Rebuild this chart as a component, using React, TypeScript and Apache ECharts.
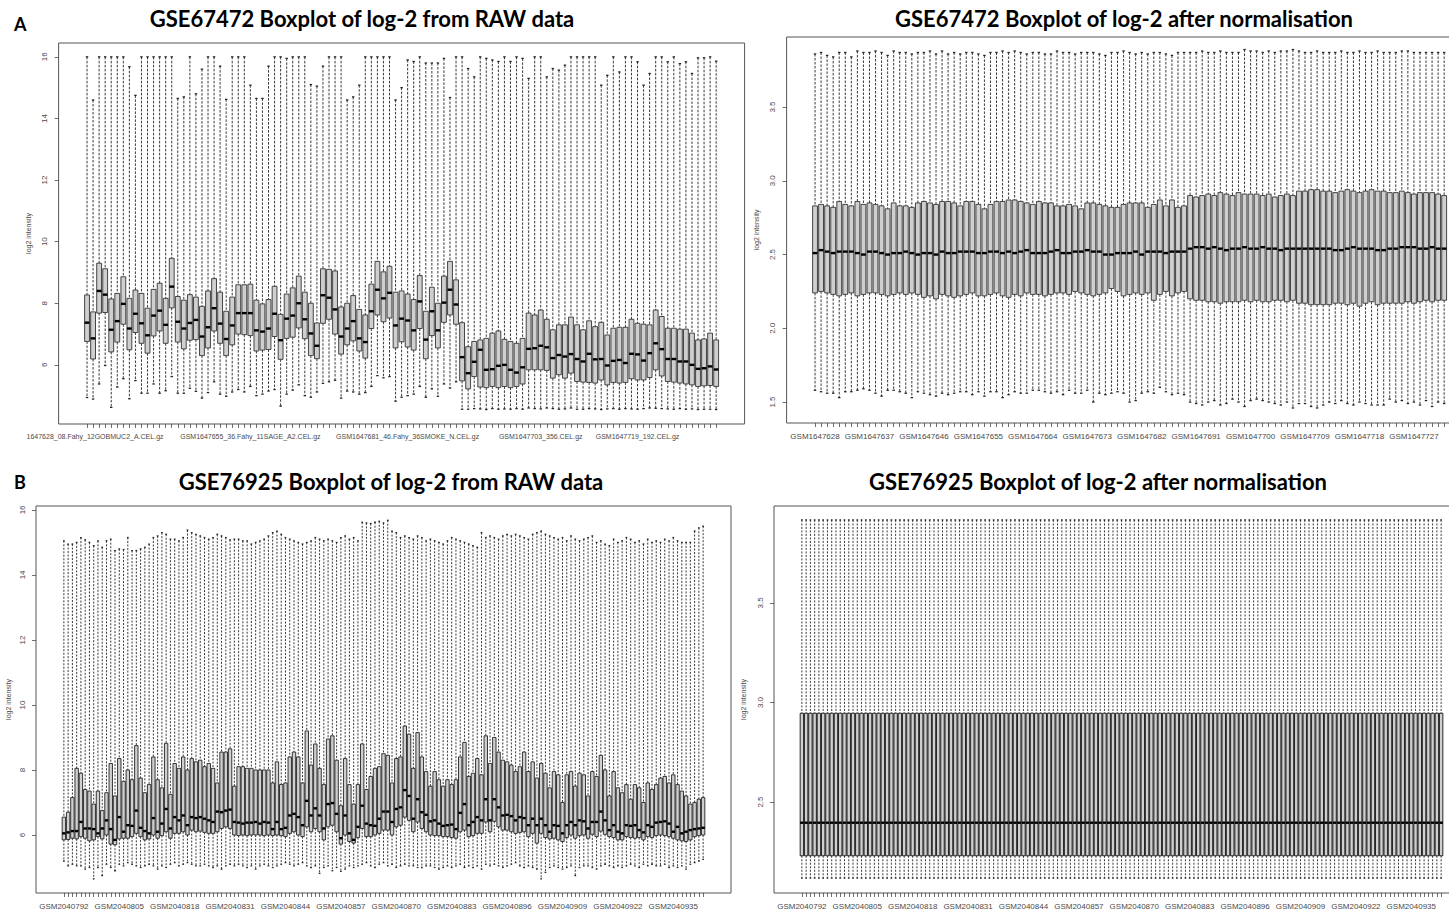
import React, { useEffect, useRef } from 'react';
import * as echarts from 'echarts';

// ---------- Sample identifiers (consecutive GEO accessions) ----------
const aFirstId = 1647628; // GSE67472, 105 arrays
const aCount = 105;
const bFirstId = 2040792; // GSE76925, 151 arrays
const bCount = 151;

// ---------- Panel A, raw data (log2) ----------
const aRawMin = [4.94,4.89,5.38,5.98,4.62,5.28,5.55,4.90,5.49,5.08, 5.08,5.38,5.08,5.16,5.62,5.08,5.08,5.24,5.14,4.92, 5.10,5.45,5.05,4.98,5.12,5.20,5.12,5.30,5.00,5.05, 5.15,5.20,4.66,5.05,5.18,5.35,5.00,4.95,5.12,5.40, 5.45,5.50,4.92,5.15,5.12,5.05,5.10,5.30,5.65,5.58, 5.62,4.82,4.95,5.00,5.05,5.30,4.95,5.22,4.98,5.38, 5.25,5.45,
  4.56,4.56,4.58,4.57,4.55,4.58,4.56,4.57,4.56,4.58, 4.56,4.60,4.58,4.57,4.60,4.58,4.56,4.57,4.60,4.56, 4.56,4.58,4.57,4.55,4.57,4.58,4.56,4.58,4.57,4.56, 4.58,4.60,4.59,4.58,4.57,4.56,4.58,4.56,4.57,4.55, 4.56,4.56,4.55];
const aRawQ1 = [6.76,6.19,7.68,7.70,6.42,6.74,7.32,6.49,7.05,6.70, 6.38,6.94,7.10,6.70,7.85,6.74,6.52,6.80,6.82,6.30, 6.55,7.10,6.70,6.30,6.65,7.00,6.98,6.95,6.45,6.48, 6.50,6.92,6.18,6.86,6.90,7.20,6.85,6.30,6.20,7.35, 7.48,7.00,6.35,6.65,6.78,6.45,6.22,7.18,7.62,7.40, 7.52,6.55,6.75,6.58,6.48,7.18,6.20,6.95,6.55,7.38, 7.62,7.32,
  5.48,5.22,5.62,5.28,5.26,5.30,5.26,5.30,5.26,5.30, 5.38,5.84,5.84,5.84,5.82,5.57,5.68,5.57,5.73,5.46, 5.44,5.43,5.41,5.51,5.35,5.43,5.41,5.43,5.55,5.51, 5.51,5.59,5.84,5.64,5.46,5.44,5.41,5.38,5.35,5.30, 5.32,5.33,5.30];
const aRawMed = [7.37,6.86,8.40,8.28,7.14,7.42,7.98,7.18,7.66,7.35, 6.96,7.60,7.76,7.30,8.54,7.40,7.18,7.36,7.46,6.92, 7.22,7.84,7.34,6.84,7.28,7.68,7.68,7.68,7.12,7.08, 7.18,7.66,6.80,7.50,7.60,8.00,7.48,7.02,6.62,8.26, 8.18,7.80,6.92,7.18,7.42,6.86,6.74,7.74,8.44,8.16, 8.34,7.28,7.50,7.44,7.12,8.06,6.82,7.74,7.12,8.02, 8.44,7.96,
  6.25,5.73,6.10,6.49,5.84,5.86,5.97,6.00,5.84,5.75, 5.92,6.52,6.54,6.62,6.57,6.22,6.32,6.27,6.35,6.19, 6.11,6.36,6.18,6.19,5.98,6.13,6.16,6.06,6.36,6.34, 6.14,6.38,6.70,6.51,6.19,6.19,6.11,6.11,6.00,5.87, 5.89,5.95,5.85];
const aRawQ3 = [8.27,7.72,9.30,9.12,8.14,8.32,8.86,8.16,8.43,8.32, 7.84,8.45,8.65,8.16,9.46,8.22,8.10,8.28,8.20,7.90, 8.40,8.80,8.36,7.74,8.20,8.60,8.60,8.62,8.10,7.98, 8.12,8.55,7.64,8.30,8.50,8.88,8.36,8.00,7.36,9.12, 9.10,9.05,7.88,8.00,8.25,7.80,7.62,8.62,9.36,9.02, 9.20,8.36,8.40,8.30,8.12,8.90,7.74,8.52,8.00,8.88, 9.36,8.76,
  7.37,6.59,6.76,6.81,6.86,7.03,7.10,6.83,6.76,6.70, 6.86,7.68,7.62,7.78,7.48,7.14,7.30,7.30,7.55,7.30, 7.14,7.43,7.24,7.38,6.97,7.19,7.22,7.22,7.48,7.35, 7.32,7.30,7.78,7.57,7.19,7.19,7.16,7.16,7.03,6.81, 6.84,7.03,6.81];
const aRawMax = [16,14.6,16,16,16,16,16,15.68,14.75,16, 16,16,16,16,16,14.65,14.7,16,14.8,15.6, 16,16,15.7,14.62,16,16,16,15.08,14.65,14.65, 15.7,16,16,15.95,16,16,16,15.1,15.05,15.7, 16,16,16,14.6,14.7,15.08,16,16,16,16, 16,14.6,15.0,15.9,15.85,16,15.8,15.8,15.8,15.95, 14.68,16,
  16,15.62,15.35,16,15.95,15.9,15.85,16,15.85,16, 15.95,15.3,16,16,15.35,15.62,15.57,15.73,16,16, 16,16,16,15.08,15.4,16,15.51,16,16,15.84, 15.08,15.46,16,16,15.84,16,15.78,15.84,15.46,15.97, 15.97,16,15.86];

// ---------- Panel A, after normalisation ----------
const aNormMin = [1.58,1.57,1.56,1.56,1.53,1.57,1.57,1.58,1.59,1.58, 1.56,1.54,1.58,1.58,1.57,1.56,1.53,1.57,1.56,1.55, 1.54,1.56,1.55,1.56,1.57,1.57,1.55,1.57,1.54,1.57, 1.57,1.53,1.55,1.57,1.56,1.56,1.58,1.58,1.57,1.56, 1.57,1.55,1.58,1.56,1.56,1.58,1.50,1.56,1.55,1.56, 1.57,1.56,1.50,1.51,1.56,1.57,1.56,1.60,1.57,1.55, 1.56,1.55,
  1.50,1.49,1.48,1.50,1.51,1.48,1.49,1.52,1.50,1.47, 1.51,1.52,1.51,1.50,1.49,1.48,1.50,1.46,1.49,1.49, 1.47,1.46,1.48,1.50,1.49,1.51,1.49,1.48,1.50,1.49, 1.48,1.48,1.48,1.52,1.50,1.51,1.49,1.50,1.48,1.51, 1.47,1.50,1.49];
const aNormQ1 = [2.24,2.25,2.24,2.23,2.22,2.23,2.24,2.22,2.23,2.24, 2.24,2.23,2.22,2.23,2.24,2.23,2.24,2.23,2.21,2.22, 2.20,2.23,2.22,2.21,2.22,2.23,2.24,2.22,2.22,2.23, 2.24,2.22,2.21,2.23,2.22,2.24,2.23,2.23,2.22,2.23, 2.24,2.24,2.23,2.25,2.24,2.23,2.22,2.23,2.24,2.27, 2.25,2.22,2.23,2.24,2.23,2.24,2.19,2.23,2.25,2.22, 2.24,2.25,
  2.20,2.19,2.19,2.18,2.18,2.17,2.18,2.18,2.18,2.19, 2.18,2.19,2.18,2.18,2.19,2.19,2.18,2.19,2.17,2.17, 2.16,2.16,2.16,2.16,2.17,2.17,2.16,2.17,2.15,2.17, 2.18,2.16,2.17,2.17,2.17,2.17,2.18,2.17,2.18,2.19, 2.18,2.19,2.19];
const aNormMed = [2.51,2.53,2.52,2.51,2.52,2.52,2.52,2.51,2.50,2.52, 2.52,2.51,2.50,2.51,2.51,2.52,2.51,2.50,2.51,2.51, 2.50,2.52,2.51,2.51,2.52,2.52,2.52,2.51,2.51,2.52, 2.52,2.51,2.52,2.51,2.52,2.53,2.51,2.51,2.51,2.52, 2.53,2.51,2.51,2.52,2.52,2.53,2.52,2.52,2.50,2.50, 2.51,2.51,2.51,2.52,2.50,2.52,2.52,2.52,2.51,2.52, 2.52,2.52,
  2.54,2.55,2.55,2.54,2.55,2.54,2.53,2.54,2.54,2.55, 2.54,2.54,2.55,2.54,2.54,2.53,2.54,2.54,2.54,2.54, 2.54,2.54,2.54,2.54,2.53,2.53,2.54,2.55,2.54,2.54, 2.54,2.53,2.53,2.54,2.54,2.55,2.55,2.55,2.54,2.54, 2.55,2.54,2.54];
const aNormQ3 = [2.83,2.84,2.83,2.82,2.86,2.84,2.83,2.86,2.84,2.85, 2.84,2.83,2.81,2.85,2.83,2.83,2.82,2.85,2.86,2.85, 2.84,2.86,2.86,2.85,2.83,2.86,2.86,2.84,2.81,2.84, 2.86,2.86,2.87,2.87,2.86,2.85,2.84,2.86,2.85,2.85, 2.83,2.83,2.84,2.83,2.81,2.85,2.85,2.84,2.83,2.82, 2.82,2.84,2.85,2.85,2.85,2.82,2.84,2.87,2.83,2.87, 2.82,2.83,
  2.90,2.89,2.90,2.91,2.90,2.92,2.91,2.90,2.92,2.91, 2.91,2.91,2.90,2.91,2.89,2.90,2.91,2.90,2.93,2.93, 2.94,2.94,2.93,2.93,2.92,2.93,2.94,2.93,2.92,2.93, 2.94,2.93,2.93,2.92,2.92,2.93,2.92,2.91,2.92,2.92, 2.92,2.91,2.90];
const aNormMax = [3.86,3.87,3.85,3.84,3.87,3.87,3.84,3.88,3.87,3.87, 3.88,3.87,3.85,3.88,3.87,3.87,3.86,3.87,3.87,3.88, 3.86,3.88,3.86,3.87,3.86,3.87,3.87,3.86,3.85,3.87, 3.87,3.88,3.87,3.88,3.87,3.86,3.87,3.87,3.86,3.86, 3.88,3.87,3.87,3.86,3.87,3.87,3.87,3.86,3.85,3.87, 3.87,3.88,3.87,3.86,3.87,3.86,3.87,3.87,3.86,3.85, 3.87,3.87,
  3.87,3.87,3.88,3.87,3.87,3.88,3.87,3.87,3.87,3.89, 3.88,3.88,3.87,3.88,3.87,3.88,3.88,3.89,3.88,3.87, 3.87,3.88,3.87,3.87,3.87,3.88,3.87,3.87,3.88,3.87, 3.87,3.88,3.87,3.87,3.87,3.88,3.88,3.87,3.87,3.87, 3.87,3.87,3.87];

// ---------- Panel B, raw data (log2) ----------
const bRawMin = [5.2,5.05,5.1,5.05,5.05,4.95,5.0,4.65,5.0,4.75, 5.1,5.0,4.9,5.1,5.05,5.15,5.1,5.05,5.0,5.05, 5.1,5.05,4.95,5.05,5.0,5.1,5.15,5.05,5.1,5.15, 5.1,5.05,5.05,5.1,5.05,5.0,5.05,4.95,5.05,5.1, 5.05,5.1,5.05,5.0,5.05,4.95,5.05,5.1,5.05,5.0, 5.05,5.1,5.15,5.1,5.05,5.1,5.15,5.05,5.0,5.05, 4.82,5.0,5.05,4.9,5.0,4.88,4.95,5.05,5.0,5.05, 5.1,5.15,5.05,5.0,5.1,5.15,5.05,5.1,5.0,5.05, 5.1,5.05,5.05,5.0,5.0,5.05,5.05,5.0,4.95,5.0, 5.05,5.0,5.05,5.1,5.0,5.05,5.0,5.05,4.95,5.1, 5.05,5.1,5.05,5.0,5.05,5.1,5.15,5.05,5.0,5.05, 5.0,4.95,4.65,4.85,5.0,5.05,5.0,4.95,5.0,5.05, 4.75,5.0,5.05,5.05,5.0,4.95,5.05,5.1,5.05,5.0, 5.05,5.0,5.05,5.1,5.05,5.0,5.1,5.05,5.1,5.05, 5.05,5.1,5.0,5.05,5.0,5.05,4.95,5.1,5.15,5.2,5.25];
const bRawQ1 = [5.85,5.86,5.90,5.88,5.95,5.90,5.82,5.85,5.95,5.88, 6.00,5.72,5.70,5.88,5.90,5.90,5.95,6.05,5.95,5.85, 5.88,6.00,5.90,5.98,6.10,5.90,6.05,6.05,6.10,6.00, 6.15,6.10,6.12,6.08,6.05,6.05,6.10,6.20,6.25,6.20, 6.00,5.98,6.00,5.98,6.00,6.00,6.00,5.98,6.00,5.98, 6.00,5.98,5.95,6.05,6.10,6.00,5.95,6.25,6.10,6.20, 6.10,5.85,6.25,6.30,6.10,5.72,6.00,5.80,5.75,5.92, 6.20,5.95,5.95,6.00,6.05,6.15,6.15,6.00,6.25,6.30, 6.55,6.45,6.10,6.40,6.20,6.10,6.00,5.98,5.98,5.95, 5.95,5.92,5.90,6.10,6.15,5.95,5.98,6.05,6.05,6.40, 6.10,6.42,6.25,6.15,6.15,6.10,6.05,6.08,6.10,5.95, 6.05,5.75,6.05,5.92,5.88,5.90,5.85,5.80,5.92,6.00, 5.90,5.98,6.00,5.90,6.02,5.95,6.12,6.02,5.95,5.92, 5.85,5.85,5.95,5.92,5.90,5.92,5.85,5.95,5.92,5.98, 6.00,5.98,5.95,5.90,5.85,5.82,5.80,5.85,5.95,5.98,6.00];
const bRawMed = [6.05,6.08,6.12,6.12,6.40,6.20,6.20,6.18,6.05,6.20, 6.45,6.18,5.85,6.55,6.10,6.30,6.28,6.75,6.22,6.12, 6.05,6.52,6.10,6.35,6.80,6.20,6.55,6.45,6.60,6.30, 6.55,6.52,6.55,6.50,6.45,6.40,6.72,6.70,6.75,6.78, 6.40,6.38,6.35,6.38,6.38,6.40,6.35,6.40,6.38,6.18, 6.40,6.18,6.22,6.60,6.65,6.55,6.30,7.05,6.60,6.82, 6.60,6.20,6.95,6.98,6.65,5.90,6.60,6.05,5.85,6.25, 6.90,6.35,6.30,6.28,6.50,6.72,6.72,6.40,6.80,6.85, 7.38,7.20,6.50,7.10,6.70,6.62,6.42,6.45,6.35,6.28, 6.30,6.32,6.18,6.68,6.95,6.30,6.40,6.55,6.45,7.10, 6.45,7.10,6.85,6.60,6.62,6.58,6.45,6.55,6.52,6.30, 6.50,6.30,6.50,6.30,6.10,6.30,6.28,6.05,6.30,6.40, 6.30,6.45,6.42,6.20,6.40,6.40,6.72,6.45,6.15,6.30, 6.10,6.05,6.30,6.28,6.30,6.15,6.08,6.30,6.25,6.38, 6.40,6.42,6.35,6.10,6.25,6.05,6.10,6.15,6.18,6.20,6.22];
const bRawQ3 = [6.55,6.70,7.15,8.05,7.90,7.40,7.35,6.95,7.35,6.75, 7.30,8.20,7.20,8.35,7.65,8.00,7.70,8.75,7.75,7.30, 7.55,8.40,7.70,7.45,8.82,7.25,8.20,8.05,8.40,8.00, 8.35,8.25,8.30,8.10,8.20,8.05,7.60,8.55,8.55,8.65, 7.50,8.10,8.10,8.05,8.05,8.00,8.00,8.00,8.00,7.60, 8.25,7.55,7.60,8.40,8.55,8.40,7.60,9.20,8.15,8.80, 8.05,7.55,8.95,9.05,8.30,6.90,8.35,7.55,6.95,7.55, 8.80,7.40,7.80,8.05,8.10,8.50,8.45,7.60,8.35,8.40, 9.35,9.10,8.05,9.15,8.40,7.95,7.50,7.95,7.70,7.50, 7.70,7.55,7.70,8.40,8.85,7.80,7.90,8.35,7.85,9.05, 8.20,9.00,8.55,8.30,8.25,8.15,7.95,8.10,8.55,7.95, 8.25,7.75,8.20,7.90,7.45,7.95,7.85,7.00,7.85,7.95, 7.50,7.90,7.85,7.20,7.95,7.80,8.45,8.00,7.20,7.95, 7.45,7.30,7.55,7.10,7.55,7.45,7.00,7.60,7.40,7.55, 7.75,7.80,7.60,7.85,7.55,7.35,7.20,6.95,7.00,7.10,7.15];
const bRawMax = [15.05,14.95,14.95,15.0,15.15,15.08,15.0,14.9,15.05,14.85, 15.05,15.1,14.75,14.8,14.78,15.15,14.75,14.75,14.8,14.85, 14.95,15.15,15.2,15.3,15.25,15.1,15.1,15.05,15.15,15.38, 15.3,15.25,15.2,15.15,15.1,15.15,15.25,15.2,15.15,15.08, 15.1,15.1,15.05,15.05,14.95,15.0,15.05,15.1,15.2,15.3, 15.35,15.25,15.15,15.1,15.05,15.0,14.95,15.0,15.05,15.15, 15.1,15.05,15.1,15.05,15.0,15.15,15.2,15.1,15.15,15.05, 15.62,15.6,15.58,15.62,15.65,15.6,15.68,15.35,15.3,15.15, 15.2,15.15,15.1,15.2,15.15,15.05,15.1,15.05,15.0,14.95, 15.05,15.15,15.1,15.05,15.0,14.95,14.9,14.85,15.3,15.15, 15.2,15.15,15.1,15.2,15.25,15.2,15.25,15.2,15.15,15.1, 15.25,15.3,15.35,15.25,15.2,15.15,15.1,15.15,15.05,15.2, 15.1,15.05,15.1,15.15,15.2,15.0,15.05,14.95,14.9,15.1, 15.0,15.05,15.15,15.1,15.0,15.05,14.95,15.1,15.0,15.05, 15.0,15.1,15.05,15.15,15.05,15.0,15.0,15.0,15.35,15.45,15.5];

// ---------- Panel B, after normalisation (quantile-normalised: identical boxes) ----------
const bNormBox = [2.118, 2.23, 2.396, 2.946, 3.917]; // min, Q1, median, Q3, max

// ---------- Tick values ----------
const rawTicks = [6, 8, 10, 12, 14, 16];
const aNormTicks = [1.5, 2.0, 2.5, 3.0, 3.5];
const bNormTicks = [2.5, 3.0, 3.5];

// ---------- Labelled samples ----------
const aRawLabels: Record<number, string> = {
  1: '1647628_08.Fahy_12GOBMUC2_A.CEL.gz',
  28: 'GSM1647655_36.Fahy_11SAGE_A2.CEL.gz',
  54: 'GSM1647681_46.Fahy_36SMOKE_N.CEL.gz',
  76: 'GSM1647703_356.CEL.gz',
  92: 'GSM1647719_192.CEL.gz',
};

const titles = [
  'GSE67472 Boxplot of log-2 from RAW data',
  'GSE67472 Boxplot of log-2 after normalisation',
  'GSE76925 Boxplot of log-2 from RAW data',
  'GSE76925 Boxplot of log-2 after normalisation',
];

const seq = (n: number, step = 1) => {
  const r: number[] = [];
  for (let i = 1; i <= n; i += step) r.push(i);
  return r;
};
const aIds = seq(aCount).map((i) => 'GSM' + (aFirstId + i - 1));
const bIds = seq(bCount).map((i) => 'GSM' + (bFirstId + i - 1));

const rows = (mn: number[], q1: number[], md: number[], q3: number[], mx: number[]) =>
  mn.map((v, i) => [i + 1, v, q1[i], md[i], q3[i], mx[i]]);

const LABEL_FONT = '"Liberation Sans", Arial, Helvetica, sans-serif';
const AXIS_COLOR = '#4a4a4a';

function makeRender(dash: number[], boxStroke: string) {
  return (params: any, api: any) => {
    const x = api.value(0);
    const lo = api.coord([x, api.value(1)]);
    const q1 = api.coord([x, api.value(2)]);
    const md = api.coord([x, api.value(3)]);
    const q3 = api.coord([x, api.value(4)]);
    const hi = api.coord([x, api.value(5)]);
    const w = api.size([0.8, 0])[0];
    const cx = lo[0];
    const sw = w / 4;
    const wStyle = { stroke: '#222', lineWidth: 0.9, lineDash: dash };
    const sStyle = { stroke: '#222', lineWidth: 1.3 };
    return {
      type: 'group',
      children: [
        { type: 'line', shape: { x1: cx, y1: hi[1], x2: cx, y2: q3[1] }, style: wStyle },
        { type: 'line', shape: { x1: cx, y1: q1[1], x2: cx, y2: lo[1] }, style: wStyle },
        { type: 'line', shape: { x1: cx - sw, y1: hi[1], x2: cx + sw, y2: hi[1] }, style: sStyle },
        { type: 'line', shape: { x1: cx - sw, y1: lo[1], x2: cx + sw, y2: lo[1] }, style: sStyle },
        {
          type: 'rect',
          shape: { x: cx - w / 2, y: q3[1], width: w, height: q1[1] - q3[1] },
          style: { fill: '#cfcfcf', stroke: boxStroke, lineWidth: 0.9 },
        },
        { type: 'line', shape: { x1: cx - w / 2, y1: md[1], x2: cx + w / 2, y2: md[1] }, style: { stroke: '#000', lineWidth: 2.4 } },
      ],
    };
  };
}

function makeX(gridIndex: number, n: number, labelPos: number[], fmt: (v: number) => string, fontSize: number) {
  const pad = 0.5 + 0.04 * n;
  return {
    type: 'value',
    gridIndex,
    min: 1 - pad,
    max: n + pad,
    axisLine: { show: false, onZero: false },
    splitLine: { show: false },
    axisTick: { show: true, length: 4, customValues: seq(n), lineStyle: { color: AXIS_COLOR, width: 0.8 } },
    axisLabel: {
      customValues: labelPos,
      formatter: fmt,
      showMinLabel: true,
      showMaxLabel: true,
      hideOverlap: false,
      fontSize,
      color: AXIS_COLOR,
      fontFamily: LABEL_FONT,
      margin: 9,
      rich: { p: { padding: [0, 0, 0, 16], fontSize, color: AXIS_COLOR, fontFamily: LABEL_FONT } },
    },
  };
}

function makeY(gridIndex: number, min: number, max: number, ticks: number[], digits: number, nameGap: number) {
  return {
    type: 'value',
    gridIndex,
    min,
    max,
    name: 'log2 intensity',
    nameLocation: 'middle',
    nameGap,
    nameTextStyle: { fontSize: 7, color: AXIS_COLOR, fontFamily: LABEL_FONT },
    axisLine: { show: false, onZero: false },
    splitLine: { show: false },
    axisTick: { show: true, length: 4, customValues: ticks, lineStyle: { color: AXIS_COLOR, width: 0.8 } },
    axisLabel: {
      customValues: ticks,
      showMinLabel: true,
      showMaxLabel: true,
      rotate: 90,
      fontSize: 8,
      color: AXIS_COLOR,
      fontFamily: LABEL_FONT,
      margin: 10,
      formatter: (v: number) => v.toFixed(digits),
    },
  };
}

export default function App() {
  const ref = useRef<HTMLDivElement>(null);
  useEffect(() => {
    if (!ref.current) return;
    const chart = echarts.init(ref.current, undefined, { renderer: 'svg' });
    const gridBase = { show: true, borderColor: '#555', borderWidth: 1, backgroundColor: 'transparent' };
    const aLabelPosNorm = seq(aCount, 9);
    const bLabelPos = seq(bCount, 13);
    const bNormRows = bIds.map((_, i) => [i + 1, ...bNormBox]);
    const titleFont = 'bold 22px Lato, "Open Sans", sans-serif';
    chart.setOption({
      animation: false,
      backgroundColor: '#fff',
      grid: [
        { ...gridBase, left: 58.6, top: 43, width: 686, height: 381 },
        { ...gridBase, left: 786.6, top: 37, width: 686, height: 386 },
        { ...gridBase, left: 36, top: 506, width: 695, height: 387 },
        { ...gridBase, left: 774, top: 506, width: 695, height: 387 },
      ],
      xAxis: [
        makeX(0, aCount, Object.keys(aRawLabels).map(Number), (v: number) =>
          v === 1 ? '{p|' + aRawLabels[1] + '}' : aRawLabels[v] || '', 7),
        makeX(1, aCount, aLabelPosNorm, (v: number) => aIds[v - 1] || '', 8),
        makeX(2, bCount, bLabelPos, (v: number) => bIds[v - 1] || '', 8),
        makeX(3, bCount, bLabelPos, (v: number) => bIds[v - 1] || '', 8),
      ],
      yAxis: [
        makeY(0, 4.08, 16.45, rawTicks, 0, 27),
        makeY(1, 1.358, 3.975, aNormTicks, 1, 27),
        makeY(2, 4.215, 16.12, rawTicks, 0, 24),
        makeY(3, 2.043, 3.987, bNormTicks, 1, 27),
      ],
      series: [
        { type: 'custom', xAxisIndex: 0, yAxisIndex: 0, silent: true, renderItem: makeRender([2.5, 1.5], '#333'),
          encode: { x: 0, y: [1, 2, 3, 4, 5] }, data: rows(aRawMin, aRawQ1, aRawMed, aRawQ3, aRawMax) },
        { type: 'custom', xAxisIndex: 1, yAxisIndex: 1, silent: true, renderItem: makeRender([2.5, 1.5], '#333'),
          encode: { x: 0, y: [1, 2, 3, 4, 5] }, data: rows(aNormMin, aNormQ1, aNormMed, aNormQ3, aNormMax) },
        { type: 'custom', xAxisIndex: 2, yAxisIndex: 2, silent: true, renderItem: makeRender([2, 1.5], '#222'),
          encode: { x: 0, y: [1, 2, 3, 4, 5] }, data: rows(bRawMin, bRawQ1, bRawMed, bRawQ3, bRawMax) },
        { type: 'custom', xAxisIndex: 3, yAxisIndex: 3, silent: true, renderItem: makeRender([2, 1.5], '#111'),
          encode: { x: 0, y: [1, 2, 3, 4, 5] }, data: bNormRows },
      ],
      graphic: [
        { type: 'text', x: 14, y: 24, style: { text: 'A', font: 'bold 18px Lato, sans-serif', fill: '#000', align: 'left', verticalAlign: 'middle' } },
        { type: 'text', x: 14, y: 482, style: { text: 'B', font: 'bold 18px Lato, sans-serif', fill: '#000', align: 'left', verticalAlign: 'middle' } },
        { type: 'text', x: 362, y: 18, style: { text: titles[0], font: titleFont, fill: '#000', align: 'center', verticalAlign: 'middle' } },
        { type: 'text', x: 1124, y: 18, style: { text: titles[1], font: titleFont, fill: '#000', align: 'center', verticalAlign: 'middle' } },
        { type: 'text', x: 391, y: 481, style: { text: titles[2], font: titleFont, fill: '#000', align: 'center', verticalAlign: 'middle' } },
        { type: 'text', x: 1098, y: 481, style: { text: titles[3], font: titleFont, fill: '#000', align: 'center', verticalAlign: 'middle' } },
      ],
    });
    return () => chart.dispose();
  }, []);
  return (
    <div style={{ position: 'fixed', left: 0, top: 0, width: 1449, height: 914, overflow: 'hidden', background: '#fff' }}>
      <div ref={ref} style={{ width: 1480, height: 914 }} />
    </div>
  );
}
